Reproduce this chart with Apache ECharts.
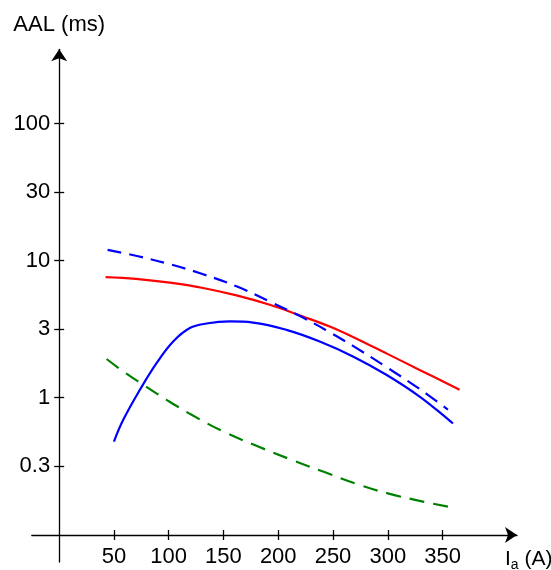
<!DOCTYPE html>
<html>
<head>
<meta charset="utf-8">
<script src="https://cdn.jsdelivr.net/npm/echarts@6/dist/echarts.min.js"></script>
<style>
  html, body { margin: 0; padding: 0; background: #ffffff; }
  #chart { width: 551px; height: 570px; }
</style>
</head>
<body>
<div id="chart"></div>
<script>
// Tick positions and labels
const xTicks = [50, 100, 150, 200, 250, 300, 350];
const yTickValues = [0.3162, 1, 3.162, 10, 31.62, 100];
const yTickLabels = ['0.3', '1', '3', '10', '30', '100'];

// AAL (ms) against arc current Ia (A)
const redSolid = [
  [42.4, 7.57], [70.0, 7.35], [101.1, 6.89], [131.4, 6.30], [161.9, 5.56],
  [192.3, 4.75], [222.6, 3.90], [247.0, 3.30], [268.2, 2.77], [298.7, 2.10],
  [329.1, 1.59], [365.6, 1.14]
];
const blueDashed = [
  [44.2, 11.97], [72.0, 10.74], [101.1, 9.40], [131.4, 7.94], [161.9, 6.48],
  [192.3, 5.01], [222.6, 3.83], [247.0, 2.99], [268.2, 2.38], [298.7, 1.67],
  [329.1, 1.153], [354.9, 0.817]
];
const blueSolid = [
  [50.0, 0.477], [58.5, 0.687], [73.7, 1.138], [88.9, 1.782], [104.1, 2.564],
  [119.3, 3.214], [134.5, 3.467], [155.8, 3.589], [177.0, 3.524], [207.5, 3.119],
  [237.9, 2.564], [268.2, 1.995], [298.7, 1.466], [329.1, 1.016], [354.9, 0.695],
  [359.5, 0.646]
];
const greenDashed = [
  [43.3, 1.91], [58.5, 1.55], [76.7, 1.24], [98.0, 0.962], [119.3, 0.760],
  [149.7, 0.565], [180.1, 0.444], [210.5, 0.355], [240.9, 0.288], [271.4, 0.234],
  [301.7, 0.198], [332.1, 0.174], [358.0, 0.158]
];

const FONT = 'Liberation Sans, Arial, sans-serif';
const AXIS_COLOR = '#000000';

const chart = echarts.init(document.getElementById('chart'), null, { renderer: 'canvas' });

function xAxisBase(extra) {
  return Object.assign({
    type: 'value',
    min: -25,
    max: 418,
    position: 'bottom',
    offset: -27,
    splitLine: { show: false },
    axisLine: { show: false, onZero: false },
    axisLabel: { show: false },
    axisTick: { show: false }
  }, extra);
}
function yAxisBase(extra) {
  return Object.assign({
    type: 'log',
    logBase: 10,
    min: 0.063,
    max: 348,
    position: 'left',
    offset: -27.4,
    splitLine: { show: false },
    axisLine: { show: false, onZero: false },
    axisLabel: { show: false },
    axisTick: { show: false }
  }, extra);
}

const option = {
  animation: false,
  backgroundColor: '#ffffff',
  grid: { left: 31.8, right: 34, top: 49.3, bottom: 8, containLabel: false, outerBoundsMode: 'none' },
  xAxis: [
    xAxisBase({
      name: 'I{sub|a} (A)',
      nameLocation: 'end',
      nameGap: -12,
      nameTextStyle: {
        fontFamily: FONT, fontSize: 21, color: '#000',
        align: 'left', verticalAlign: 'top', padding: [14, 0, 0, 0],
        rich: {
          sub: { fontFamily: FONT, fontSize: 14, color: '#000', verticalAlign: 'bottom', padding: [0, 0, -2, 0] }
        }
      },
      axisLine: {
        show: true, onZero: false,
        lineStyle: { color: AXIS_COLOR, width: 1.3 },
        symbol: ['none', 'arrow'], symbolSize: [12, 12]
      },
      axisTick: { show: true, length: 5, customValues: xTicks, lineStyle: { color: AXIS_COLOR, width: 1.3 } },
      axisLabel: { show: true, customValues: xTicks, margin: 11, fontFamily: FONT, fontSize: 22, color: '#000' }
    }),
    xAxisBase({
      axisTick: { show: true, inside: true, length: 5, customValues: xTicks, lineStyle: { color: AXIS_COLOR, width: 1.3 } }
    })
  ],
  yAxis: [
    yAxisBase({
      name: 'AAL (ms)',
      nameLocation: 'end',
      nameGap: 13,
      nameTextStyle: { fontFamily: FONT, fontSize: 22, color: '#000' },
      axisLine: {
        show: true, onZero: false,
        lineStyle: { color: AXIS_COLOR, width: 1.3 },
        symbol: ['none', 'arrow'], symbolSize: [12, 12]
      },
      axisTick: { show: true, length: 5, customValues: yTickValues, lineStyle: { color: AXIS_COLOR, width: 1.3 } },
      axisLabel: {
        show: true, customValues: yTickValues, margin: 9,
        fontFamily: FONT, fontSize: 22, color: '#000',
        formatter: function (v) {
          let best = 0;
          yTickValues.forEach(function (t, i) {
            if (Math.abs(Math.log10(t) - Math.log10(v)) < Math.abs(Math.log10(yTickValues[best]) - Math.log10(v))) best = i;
          });
          return yTickLabels[best];
        }
      }
    }),
    yAxisBase({
      axisTick: { show: true, inside: true, length: 5, customValues: yTickValues, lineStyle: { color: AXIS_COLOR, width: 1.3 } }
    })
  ],
  series: [
    {
      type: 'line', data: redSolid, smooth: 0.4, showSymbol: false,
      lineStyle: { color: '#ff0000', width: 2.2, type: 'solid' }
    },
    {
      type: 'line', data: blueDashed, smooth: 0.4, showSymbol: false,
      lineStyle: { color: '#0000ff', width: 2.2, type: [14, 8] }
    },
    {
      type: 'line', data: blueSolid, smooth: 0.4, showSymbol: false,
      lineStyle: { color: '#0000ff', width: 2.2, type: 'solid' }
    },
    {
      type: 'line', data: greenDashed, smooth: 0.4, showSymbol: false,
      lineStyle: { color: '#008000', width: 2.2, type: [15, 9] }
    }
  ]
};

chart.setOption(option);
</script>
</body>
</html>
